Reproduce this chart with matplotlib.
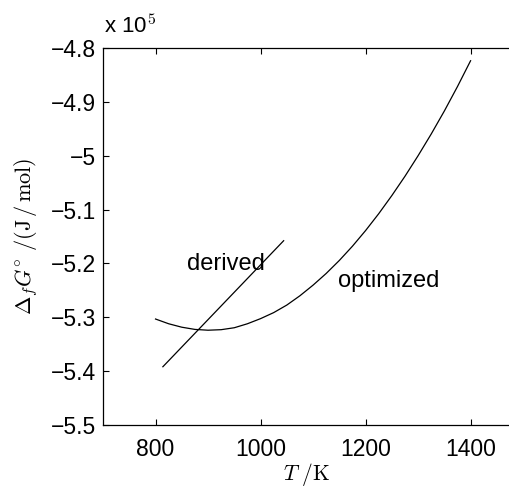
import numpy as np
import matplotlib
matplotlib.use("Agg")
import matplotlib.pyplot as plt

plt.rcParams['font.family'] = ['Liberation Sans', 'DejaVu Sans']
plt.rcParams['mathtext.fontset'] = 'cm'

# optimized curve (T in K, dG in J/mol)
T_opt = [800, 825, 850, 875, 900, 925, 950, 975, 1000, 1025, 1050, 1075,
         1100, 1125, 1150, 1175, 1200, 1225, 1250, 1275, 1300, 1325, 1350,
         1375, 1400]
G_opt = [-530320, -531200, -531840, -532250, -532400, -532300, -531940,
         -531200, -530250, -529130, -527730, -526000, -524030, -521860,
         -519450, -516800, -513900, -510770, -507400, -503820, -500000,
         -495970, -491700, -487160, -482360]

# derived line
T_der = [814, 1044]
G_der = [-539180, -515780]

xticks = [800, 1000, 1200, 1400]
yticks = [-4.8, -4.9, -5.0, -5.1, -5.2, -5.3, -5.4, -5.5]

fig = plt.figure(figsize=(5.1, 4.87), dpi=100)
ax = fig.add_axes([0.202, 0.1273, 0.80, 0.7741])

ax.plot(T_opt, np.array(G_opt) / 1e5, color='black', lw=0.9)
ax.plot(T_der, np.array(G_der) / 1e5, color='black', lw=0.9)

ax.text(859, -5.201, 'derived', fontsize=17, va='center', ha='left')
ax.text(1148, -5.232, 'optimized', fontsize=17, va='center', ha='left')

ax.set_xlim(700, 1477)
ax.set_ylim(-5.5, -4.8)
ax.set_xticks(xticks)
ax.set_xticklabels([str(t) for t in xticks])
ax.set_yticks(yticks)
ax.set_yticklabels([('\u2212%g' % abs(v)) for v in yticks])
ax.tick_params(direction='in', length=4, width=0.8, labelsize=16.5,
               top=True, right=False)
ax.tick_params(axis='x', pad=9)
ax.tick_params(axis='y', pad=5)
ax.spines['right'].set_visible(False)
for s in ['left', 'bottom', 'top']:
    ax.spines[s].set_linewidth(0.9)

ax.set_xlabel(r'$T\ /\mathrm{K}$', fontsize=15.5, labelpad=0)
ax.set_ylabel(r'$\Delta_f G^{\circ}\ /(\mathrm{J\,/\,mol})$', fontsize=16,
              labelpad=8)
fig.text(0.203, 0.922, r'x 10$^5$', fontsize=16, ha='left', va='bottom')

fig.savefig('out.png', dpi=100)
